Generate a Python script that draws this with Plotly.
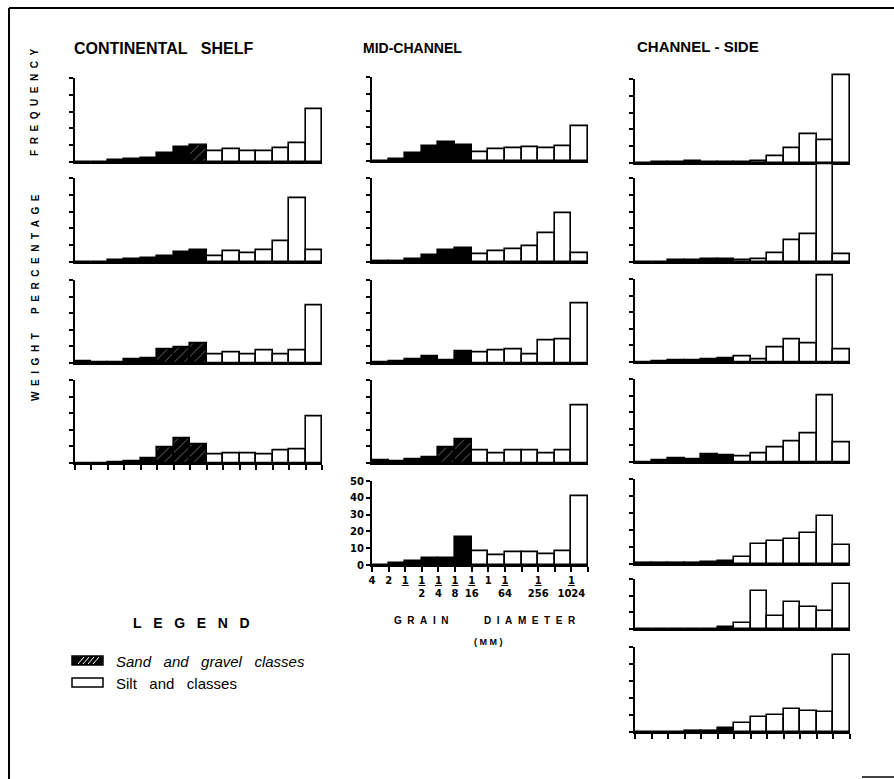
import plotly.graph_objects as go

W, H = 894, 779

# ---------------- data (weight percentage per grain-size class) ----------------
# Continental shelf: 15 classes (first 8 sand & gravel, last 7 silt & clay)
cs_1 = [0, 0, 1, 1.8, 2.5, 5, 9, 10, 6.3, 7.7, 6.7, 6.7, 8, 11, 31.7]
cs_2 = [0, 0, 0.8, 1.4, 2, 3.7, 5.7, 7, 3.3, 6.7, 5, 7, 12.4, 38, 7]
cs_3 = [1.2, 0.4, 0.6, 2, 3, 8, 9.7, 12, 5.2, 6.5, 5.2, 7.3, 5.2, 7.3, 34.5]
cs_4 = [0, 0, 0.6, 1.2, 3, 9.7, 15, 11.5, 5, 6, 6, 5.4, 7.3, 8.3, 27.8]

# Mid-channel: 13 classes (first 6 sand & gravel, last 7 silt & clay)
mc_1 = [0, 1, 4.6, 8.6, 11, 9.6, 5, 7.2, 7.4, 8, 7.6, 9, 21]
mc_2 = [0.4, 0.6, 1.4, 3.8, 7, 8, 4.4, 6.5, 7.7, 9.3, 17, 29, 5.4]
mc_3 = [0.2, 1.2, 2.2, 4, 1.6, 7, 6.5, 7.5, 8, 5.2, 13.5, 14, 36]
mc_4 = [1.4, 1.2, 2, 3.6, 9.3, 14.3, 7.3, 6, 7.7, 7.3, 6, 7.3, 34.5]
mc_5 = [0, 1, 2.4, 4.3, 4.3, 16.4, 8.3, 6, 7.5, 7.5, 6.3, 8.3, 41]

# Channel-side: 13 classes (first 6 sand & gravel, last 7 silt & clay)
sd_1 = [0, 0.3, 0.5, 0.8, 0.6, 0.4, 0.3, 1, 3.9, 8.7, 17, 13.6, 52]
sd_2 = [0, 0, 1, 1.2, 1.4, 1.4, 1, 1.8, 5.4, 13, 16.5, 58, 4.8]
sd_3 = [0, 0.4, 0.8, 1.2, 1.6, 2, 3.4, 1.4, 9, 13.5, 11.5, 52.4, 7.3]
sd_4 = [0, 1.2, 2, 1.6, 4.8, 4.2, 3.6, 5.4, 9, 12.3, 17, 40, 12]
sd_5 = [0.6, 0.6, 0.6, 0.8, 1, 1.6, 4, 11.8, 13.3, 14.7, 18.2, 28, 11.4]
sd_6 = [0, 0, 0, 0, 0, 1.4, 3.6, 23, 8, 16, 13.2, 11, 27.2]
sd_7 = [0, 0, 0, 0.4, 0.6, 2.5, 5.3, 8.8, 10.2, 13.3, 12.2, 11.6, 45.5]

# grain-diameter tick labels (mm) at the class boundaries
diam_labels = ["4", "2", "<u>1</u>", "<u>1</u><br>2", "<u>1</u><br>4", "<u>1</u><br>8",
               "<u>1</u><br>16", "1", "<u>1</u><br>64", "", "<u>1</u><br>256", "",
               "<u>1</u><br>1024", ""]
y_ticks = [0, 10, 20, 30, 40, 50]

# ---------------- styling / layout geometry (pixels) ----------------
# bars drawn with a light white hatch (as in the printed figure)
hatched = {(0, 0): [7], (0, 2): [5, 6, 7], (0, 3): [5, 6, 7], (1, 3): [4, 5]}

columns = [
    ([cs_1, cs_2, cs_3, cs_4], 8, 75, 322,
     [(78, 162, 50), (178, 262, 50), (280, 363, 50), (380, 463, 50)]),
    ([mc_1, mc_2, mc_3, mc_4, mc_5], 6, 372, 588,
     [(77, 161, 50), (178, 262, 50), (280, 363, 50), (380, 463, 50), (481, 565, 50)]),
    ([sd_1, sd_2, sd_3, sd_4, sd_5, sd_6, sd_7], 6, 635, 850,
     [(79, 163, 50), (178, 262, 50), (279, 362, 50), (379, 462, 50), (479, 564, 50),
      (579, 629, 30), (647, 732, 50)]),
]

def sfx(i):
    return "" if i == 1 else str(i)

fig = go.Figure()
k = 0
axes = {}
tickfont = dict(family="DejaVu Sans", size=10, color="black", weight="bold")
for ci, (vals_list, nsand, x0, x1, rows) in enumerate(columns):
    for ri, (vals, (top, base, ymax)) in enumerate(zip(vals_list, rows)):
        k += 1
        fi, di = 2 * k - 1, 2 * k
        xa = "x" + sfx(k)
        yf = "y" + sfx(fi)   # frame axis (line + ticks)
        yd = "y" + sfx(di)   # data axis (bars, extra headroom)
        n = len(vals)
        centers = [i + 0.5 for i in range(n)]
        colors = ["black" if i < nsand else "white" for i in range(n)]
        hl = hatched.get((ci, ri), [])
        pshape = ["/" if i in hl else "" for i in range(n)]
        fig.add_trace(go.Scatter(x=[None], y=[None], xaxis=xa, yaxis=yf, mode="markers",
                                 showlegend=False, hoverinfo="skip"))
        fig.add_trace(go.Bar(
            x=centers, y=vals, width=1, xaxis=xa, yaxis=yd,
            marker=dict(color=colors, line=dict(color="black", width=1.6),
                        pattern=dict(shape=pshape, fgcolor="white", size=7, solidity=0.12)),
            showlegend=False, hoverinfo="skip"))
        last = ri == len(vals_list) - 1
        labeled = (ci == 1 and last)
        hpx = base - top
        axes["xaxis" + sfx(k)] = dict(
            domain=[x0 / W, x1 / W], range=[0, n], anchor=yf, automargin=False,
            showline=True, linecolor="black", linewidth=2, showgrid=False, zeroline=False,
            ticks="outside" if last else "", ticklen=5, tickwidth=2, tickcolor="black",
            tickvals=list(range(n + 1)) if last else [],
            ticktext=diam_labels if labeled else None,
            showticklabels=labeled, tickfont=tickfont, fixedrange=True)
        axes["yaxis" + sfx(fi)] = dict(
            domain=[1 - base / H, 1 - top / H], range=[0, ymax], anchor=xa, automargin=False,
            showline=True, linecolor="black", linewidth=2, showgrid=False, zeroline=False,
            ticks="outside", ticklen=4, tickwidth=2, tickcolor="black",
            tickvals=[t for t in y_ticks if t <= ymax], showticklabels=labeled,
            tickfont=tickfont, fixedrange=True)
        axes["yaxis" + sfx(di)] = dict(
            domain=[1 - base / H, 1 - (top - 0.2 * hpx) / H], range=[0, ymax * 1.2],
            anchor=xa, visible=False, automargin=False, fixedrange=True)

fig.update_layout(**axes)

ann = []
def txt(text, px, py, size=13, bold=True, italic=False, anchor="left", angle=0):
    t = text
    if bold:
        t = "<b>" + t + "</b>"
    if italic:
        t = "<i>" + t + "</i>"
    ann.append(dict(text=t, x=px / W, y=1 - py / H, xref="paper", yref="paper",
                    xanchor=anchor, yanchor="middle", showarrow=False, textangle=angle,
                    font=dict(family="Liberation Sans", size=size, color="black")))

NB = "\u00a0"
def spaced(word, gap=2):
    return (NB * gap).join(list(word))

txt("CONTINENTAL" + NB * 3 + "SHELF", 72, 48, size=16)
txt("MID-CHANNEL", 361, 48, size=14)
txt("CHANNEL" + NB + "-" + NB + "SIDE", 635, 47, size=15)

txt(spaced("FREQUENCY"), 35, 102, size=10, anchor="center", angle=-90)
txt(spaced("PERCENTAGE"), 35, 254, size=10, anchor="center", angle=-90)
txt(spaced("WEIGHT"), 35, 367, size=10, anchor="center", angle=-90)

txt(spaced("GRAIN", 2), 421, 620, size=10, anchor="center")
txt(spaced("DIAMETER", 2), 530, 620, size=10, anchor="center")
txt("(" + NB + "M" + NB + "M" + NB + ")", 488, 642, size=9, anchor="center")

txt(spaced("LEGEND", 3), 191, 623, size=14, anchor="center")
txt("Sand" + NB * 3 + "and" + NB * 3 + "gravel" + NB * 3 + "classes", 114, 661, size=15,
    bold=False, italic=True)
txt("Silt" + NB * 3 + "and" + NB * 3 + "classes", 114, 683, size=15, bold=False)

shapes = []
def line(xa_, ya_, xb_, yb_, w=2, c="black"):
    shapes.append(dict(type="line", xref="paper", yref="paper", x0=xa_ / W, y0=1 - ya_ / H,
                       x1=xb_ / W, y1=1 - yb_ / H, line=dict(color=c, width=w)))
def rect(xa_, ya_, xb_, yb_, fill, w=1.5):
    shapes.append(dict(type="rect", xref="paper", yref="paper", x0=xa_ / W, y0=1 - yb_ / H,
                       x1=xb_ / W, y1=1 - ya_ / H, fillcolor=fill,
                       line=dict(color="black", width=w)))

# frame
line(9, 8, 894, 8, w=2)
line(9, 8, 9, 779, w=2)
line(862, 777, 894, 777, w=1.5)

# legend swatches
rect(72, 656, 103, 665, "black")
for dx in (6, 11, 16, 21):
    line(72 + dx, 664, 72 + dx + 6, 657, w=1, c="white")
rect(72, 678, 103, 687, "white")

fig.update_layout(
    width=W, height=H, margin=dict(l=0, r=0, t=0, b=0, pad=0, autoexpand=False),
    paper_bgcolor="white", plot_bgcolor="rgba(0,0,0,0)",
    annotations=ann, shapes=shapes, bargap=0, showlegend=False)

fig.write_html(
    "out.html", config={"displayModeBar": False},
    post_script=("document.documentElement.style.margin='0';"
                 "document.documentElement.style.overflow='hidden';"
                 "document.body.style.margin='0';document.body.style.padding='0';"
                 "document.body.style.overflow='hidden';"))
